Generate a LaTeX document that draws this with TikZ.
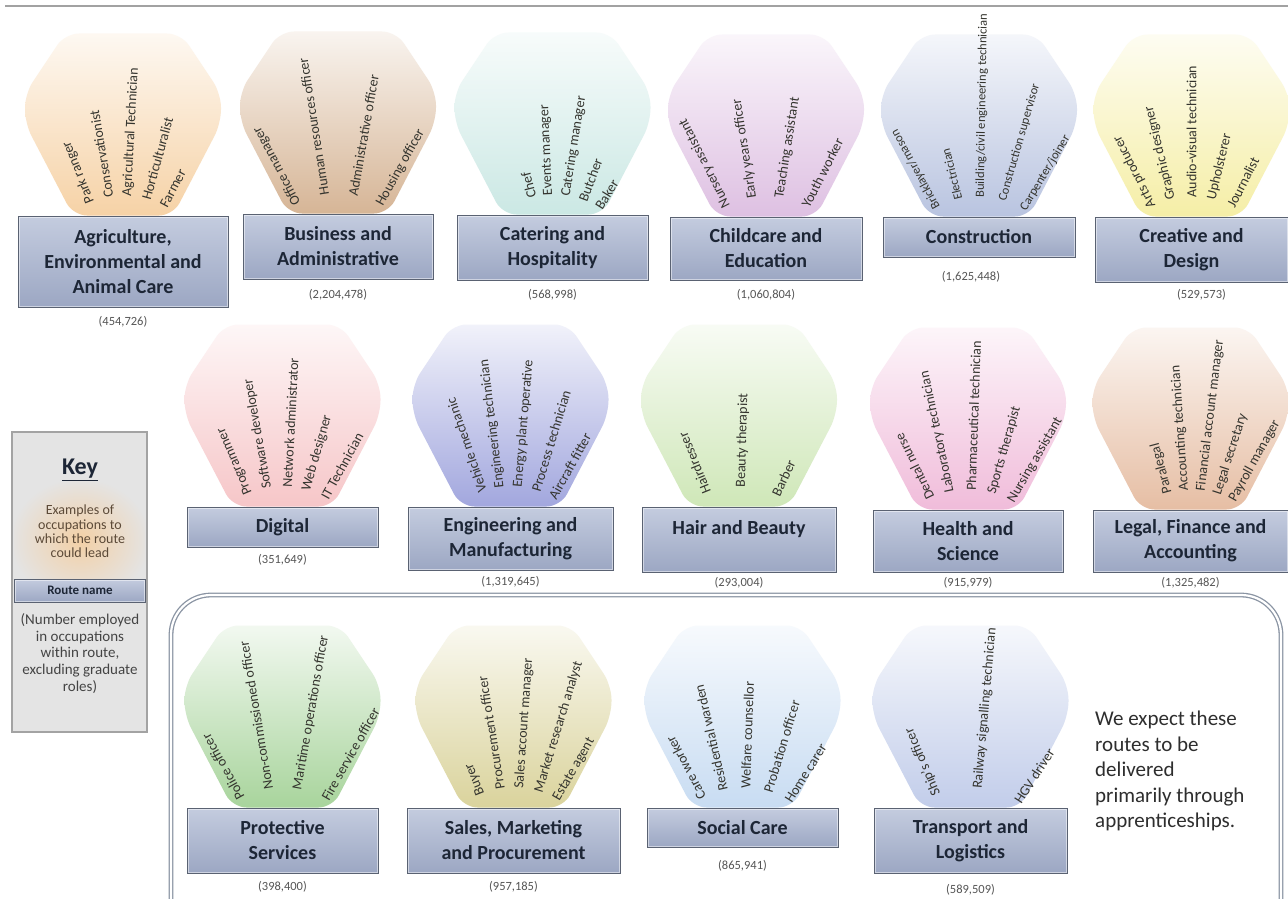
\documentclass[tikz,border=0pt]{standalone}
\usepackage{fontspec}
\setmainfont{Carlito}
\usepackage{tikz}
\usetikzlibrary{positioning, calc, backgrounds}
\definecolor{boxTop}{HTML}{C4CCDF}
\definecolor{boxBot}{HTML}{9CA7C3}
\definecolor{boxEdge}{HTML}{5A6272}
\definecolor{boxInk}{HTML}{1D2636}
\definecolor{jobInk}{HTML}{34342E}
\definecolor{numInk}{HTML}{555555}
\definecolor{topRule}{HTML}{A2A2A2}
\definecolor{frameLine}{HTML}{8A94A3}
\definecolor{keyFill}{HTML}{E4E4E4}
\definecolor{keyEdge}{HTML}{A3A3A3}
\definecolor{keyGlow}{HTML}{F3D0A6}
\definecolor{keyInk}{HTML}{5C4A38}
\definecolor{fAgri}{HTML}{F6D2A6}
\definecolor{fBusiness}{HTML}{D6B596}
\definecolor{fCatering}{HTML}{CBE8E4}
\definecolor{fChildcare}{HTML}{DEC0E2}
\definecolor{fConstruction}{HTML}{B9C4E0}
\definecolor{fCreative}{HTML}{F5EEA6}
\definecolor{fDigital}{HTML}{F6C6C8}
\definecolor{fEngineering}{HTML}{A2A7DE}
\definecolor{fHair}{HTML}{CFE7B8}
\definecolor{fHealth}{HTML}{F0BCDA}
\definecolor{fLegal}{HTML}{E6BEA4}
\definecolor{fProtective}{HTML}{A8D49C}
\definecolor{fSales}{HTML}{DAD39C}
\definecolor{fSocial}{HTML}{C8DCF2}
\definecolor{fTransport}{HTML}{C2CDEA}
\tikzset{
  routebox/.style={draw=boxEdge, line width=1pt, top color=boxTop, bottom color=boxBot,
    text=boxInk, font=\fontsize{20}{25}\selectfont\bfseries, align=center, inner sep=2pt,
    path picture={\draw[white, opacity=0.5, line width=3pt]
      (path picture bounding box.south west) rectangle (path picture bounding box.north east);}},
  routecount/.style={text=numInk, font=\fontsize{12.5}{14}\selectfont, inner sep=0pt},
  joblabel/.style={text=jobInk, anchor=west, inner sep=0pt},
  fanfill/.style={top color=#1!15, bottom color=#1, rounded corners=14pt},
  routeframe/.style={draw=frameLine, line width=1.3pt, double=white, double distance=2.2pt,
    rounded corners=40pt},
  keybox/.style={draw=keyEdge, line width=2pt, fill=keyFill, inner sep=0pt},
  keysmall/.style={text=keyInk, font=\fontsize{14}{14.3}\selectfont, align=center, inner sep=0pt},
  keynum/.style={text=numInk!80!black, font=\fontsize{15}{16.75}\selectfont, align=center, inner sep=0pt},
  notetext/.style={text=black!82, font=\fontsize{21}{25.5}\selectfont, align=left, inner sep=0pt},
}
\newcommand{\routefan}[2]{%
  \begin{scope}[on background layer, shift={(#1.north)}]
    \shade[fanfill=#2] (-50,0) -- (-98,92) -- (-98,122) -- (-58,182) -- (58,182)
      -- (98,122) -- (98,92) -- (50,0) -- cycle;
  \end{scope}
}
\newcommand{\jobfan}[5][14]{%
  \foreach \job [count=\k from 0] in {#5} {
    \pgfmathsetmacro{\ang}{#3-\k*#4}
    \node[joblabel, font=\fontsize{#1}{#1}\selectfont, rotate=\ang]
      (#2-job\k) at ($(#2.north)+(0,-67)+(\ang:86)$) {\job};
  }
}

\begin{document}
\begin{tikzpicture}[x=1pt, y=1pt]
  \useasboundingbox (0,0) rectangle (1288,-899);
  \begin{scope}[on background layer]
    \fill[white] (0,0) rectangle (1288,-899);
  \end{scope}
  \draw[topRule, line width=1.8pt] (5,-6) -- (1288,-6);

  % first row
  \node[routebox, minimum width=210pt, minimum height=91pt] (agri) at (123,-261.5) {Agriculture,\\Environmental and\\Animal Care};
  \node[routebox, minimum width=190pt, minimum height=65pt] (busi) at (338,-246.5) {Business and\\Administrative};
  \node[routebox, minimum width=191pt, minimum height=65pt] (cater) at (552.5,-247.5) {Catering and\\Hospitality};
  \node[routebox, minimum width=192pt, minimum height=63pt] (child) at (766,-248.5) {Childcare and\\Education};
  \node[routebox, minimum width=192pt, minimum height=40pt] (constr) at (979,-237) {Construction};
  \node[routebox, minimum width=193pt, minimum height=65pt] (creat) at (1191.5,-249.5) {Creative and\\Design};
  \node[routecount, below=9pt of agri] (agri-n) {(454,726)};
  \node[routecount, below=10pt of busi] (busi-n) {(2,204,478)};
  \node[routecount, below=9pt of cater] (cater-n) {(568,998)};
  \node[routecount, below=9pt of child] (child-n) {(1,060,804)};
  \node[routecount, below=14pt of constr, xshift=-8pt] (constr-n) {(1,625,448)};
  \node[routecount, below=7pt of creat, xshift=10pt] (creat-n) {(529,573)};

  % second row
  \node[routebox, minimum width=191pt, minimum height=40pt] (digi) at (282.5,-527) {Digital};
  \node[routebox, minimum width=205pt, minimum height=63pt] (engi) at (510.5,-538.5) {Engineering and\\Manufacturing};
  \node[routebox, minimum width=194pt, minimum height=65pt] (hair) at (739,-539.5) {Hair and Beauty\\\mbox{}};
  \node[routebox, minimum width=190pt, minimum height=62pt] (heal) at (968,-541) {Health and\\Science};
  \node[routebox, minimum width=195pt, minimum height=62pt] (legal) at (1190.5,-541) {Legal, Finance and\\Accounting};
  \node[routecount, below=7pt of digi] (digi-n) {(351,649)};
  \node[routecount, below=6pt of engi] (engi-n) {(1,319,645)};
  \node[routecount, below=5pt of hair] (hair-n) {(293,004)};
  \node[routecount, below=5pt of heal] (heal-n) {(915,979)};
  \node[routecount, below=5pt of legal] (legal-n) {(1,325,482)};

  % apprenticeship routes
  \draw[routeframe] (171,-899) -- (171,-595) -- (1281,-595) -- (1281,-899);
  \node[routebox, minimum width=191pt, minimum height=65pt] (prot) at (282.5,-840.5) {Protective\\Services};
  \node[routebox, minimum width=213pt, minimum height=65pt] (sales) at (513.5,-840.5) {Sales, Marketing\\and Procurement};
  \node[routebox, minimum width=191pt, minimum height=39pt] (soc) at (742.5,-827.5) {Social Care};
  \node[routebox, minimum width=193pt, minimum height=65pt] (trans) at (970.5,-840.5) {Transport and\\Logistics};
  \node[routecount, below=8pt of prot] (prot-n) {(398,400)};
  \node[routecount, below=8pt of sales] (sales-n) {(957,185)};
  \node[routecount, below=13pt of soc] (soc-n) {(865,941)};
  \node[routecount, below=11pt of trans] (trans-n) {(589,509)};
  \node[notetext, anchor=north west] (note) at (1095,-711) {We expect these\\routes to be\\delivered\\primarily through\\apprenticeships.};

  \routefan{agri}{fAgri}
  \routefan{busi}{fBusiness}
  \routefan{cater}{fCatering}
  \routefan{child}{fChildcare}
  \routefan{constr}{fConstruction}
  \routefan{creat}{fCreative}
  \routefan{digi}{fDigital}
  \routefan{engi}{fEngineering}
  \routefan{hair}{fHair}
  \routefan{heal}{fHealth}
  \routefan{legal}{fLegal}
  \routefan{prot}{fProtective}
  \routefan{sales}{fSales}
  \routefan{soc}{fSocial}
  \routefan{trans}{fTransport}

  \jobfan{agri}{112}{12.5}{Park ranger, Conservationist, Agricultural Technician, Horticulturalist, Farmer}
  \jobfan{busi}{118}{19}{Office manager, Human resources officer, Administrative officer, Housing officer}
  \jobfan{cater}{104}{11.5}{Chef, Events manager, Catering manager, Butcher, Baker}
  \jobfan{child}{117}{18}{Nursery assistant, Early years officer, Teaching assistant, Youth worker}
  \jobfan[12.5]{constr}{119}{15}{Bricklayer/mason, Electrician, Building/civil engineering technician, Construction supervisor, Carpenter/joiner}
  \jobfan{creat}{117}{13.5}{Arts producer, Graphic designer, Audio-visual technician, Upholsterer, Journalist}
  \jobfan{digi}{113}{13}{Programmer, Software developer, Network administrator, Web designer, IT Technician}
  \jobfan{engi}{109}{12}{Vehicle mechanic, Engineering technician, Energy plant operative, Process technician, Aircraft fitter}
  \jobfan{hair}{112}{23.5}{Hairdresser, Beauty therapist, Barber}
  \jobfan{heal}{116}{14}{Dental nurse, Laboratory technician, Pharmaceutical technician, Sports therapist, Nursing assistant}
  \jobfan{legal}{105}{11}{Paralegal, Accounting technician, Financial account manager, Legal secretary, Payroll manager}
  \jobfan{prot}{119}{19.5}{Police officer, Non-commissioned officer, Maritime operations officer, Fire service officer}
  \jobfan{sales}{112}{13}{Buyer, Procurement officer, Sales account manager, Market research analyst, Estate agent}
  \jobfan{soc}{118}{15}{Care worker, Residential warden, Welfare counsellor, Probation officer, Home carer}
  \jobfan{trans}{113}{28}{Ship's officer, Railway signalling technician, HGV driver}

  % key
  \node[keybox, minimum width=135pt, minimum height=300pt] (key) at (79.5,-582) {};
  \begin{scope}
    \clip (14,-434) rectangle (145,-578);
    \shade[inner color=keyGlow, outer color=keyFill] (80,-540) ellipse (70pt and 62pt);
  \end{scope}
  \node[text=boxInk, font=\fontsize{24}{26}\selectfont\bfseries] (keytitle) at (80,-470) {\underline{Key}};
  \node[keysmall] (keyjobs) at (80,-531.5) {Examples of\\occupations to\\which the route\\could lead};
  \node[routebox, font=\fontsize{13}{15}\selectfont\bfseries, minimum width=131pt, minimum height=23pt, inner sep=0pt] (keyroute) at (80,-590.5) {Route name};
  \node[keynum] (keycount) at (80,-653.5) {(Number employed\\in occupations\\within route,\\excluding graduate\\roles)};
\end{tikzpicture}
\end{document}
